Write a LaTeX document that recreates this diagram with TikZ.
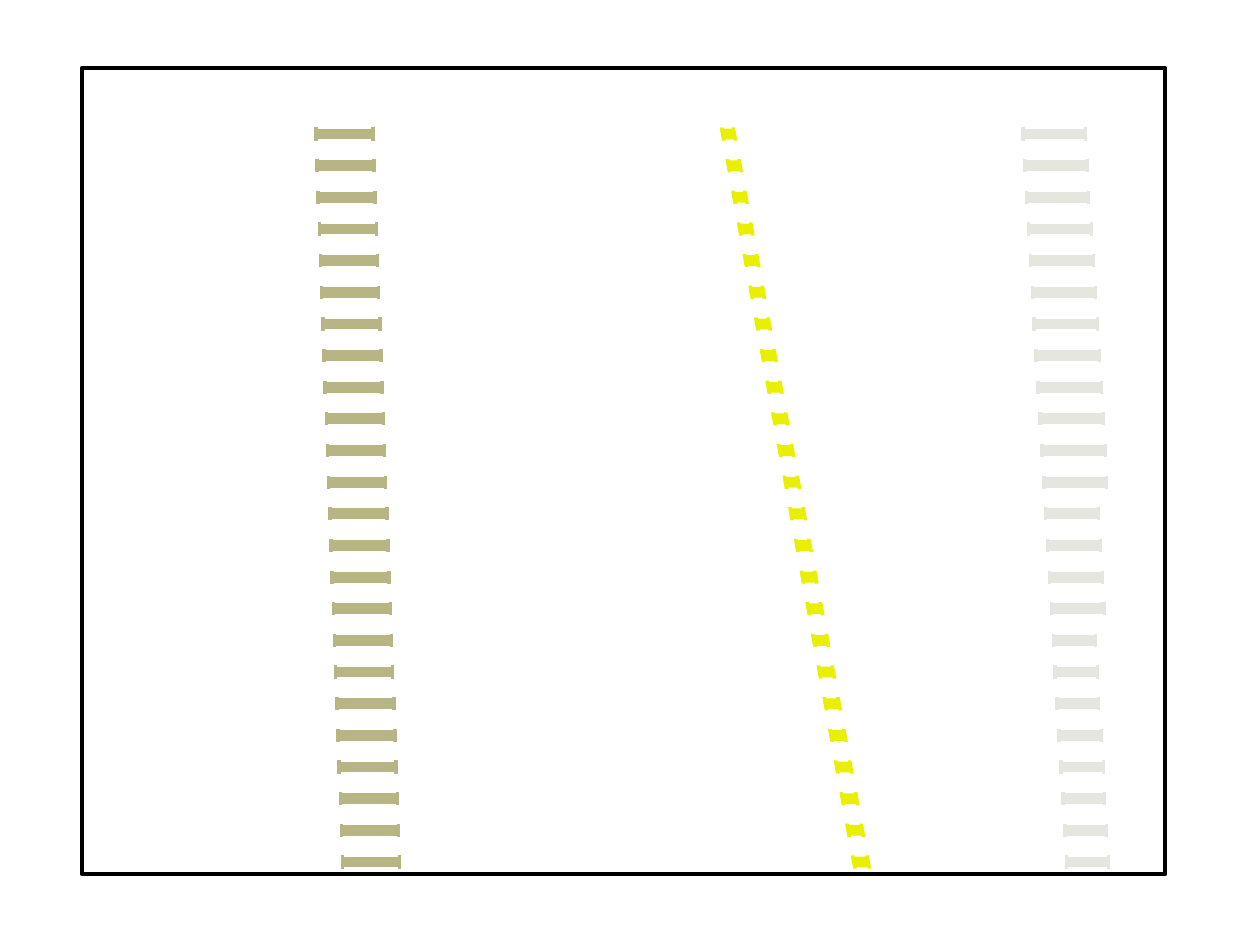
\documentclass[tikz,border=0pt]{standalone}
\usepackage{tikz}
\definecolor{olivetie}{RGB}{184,181,132}
\definecolor{yellowtie}{RGB}{232,240,0}
\definecolor{greytie}{RGB}{230,230,225}
\newcommand\railtie[4]{%
  \fill[#4] (#1,#3-5.4) rectangle (#2,#3+5.4);
  \fill[#4] (#1,#3-6.6) rectangle (#1+3.5,#3+6.6);
  \fill[#4] (#2-3.5,#3-6.6) rectangle (#2,#3+6.6);
}
\tikzset{frame/.style={draw=black,line width=4.8pt,line join=round}}
\begin{document}
\begin{tikzpicture}[x=1pt,y=-1pt]
\useasboundingbox (0,0) rectangle (1245,942);
\fill[white] (0,0) rectangle (1245,942);
% left column (olive)
\foreach \i in {0,...,23}{
  \pgfmathsetmacro\yy{134+31.65*\i}
  \pgfmathsetmacro\xa{314+1.17*\i}
  \pgfmathsetmacro\xb{\xa+60.5}
  \railtie{\xa}{\xb}{\yy}{olivetie}
}
% middle column (yellow)
\foreach \i in {0,...,23}{
  \pgfmathsetmacro\yy{134+31.65*\i}
  \pgfmathsetmacro\xc{728.5+5.76*\i}
  \pgfmathsetmacro\w{7.4+0.06*\i}
  \pgfmathsetmacro\xa{\xc-\w}
  \pgfmathsetmacro\xb{\xc+\w}
  \pgfmathsetmacro\sk{1.0}
  \fill[yellowtie] (\xa-\sk,\yy-5.4) -- (\xb-\sk,\yy-5.4) -- (\xb+\sk,\yy+5.4) -- (\xa+\sk,\yy+5.4) -- cycle;
  \fill[yellowtie] (\xa-\sk-0.3,\yy-6.6) -- (\xa-\sk+3.2,\yy-6.6) -- (\xa+\sk+3.5,\yy+6.6) -- (\xa+\sk,\yy+6.6) -- cycle;
  \fill[yellowtie] (\xb-\sk-3.5,\yy-6.6) -- (\xb-\sk,\yy-6.6) -- (\xb+\sk+0.3,\yy+6.6) -- (\xb+\sk-3.2,\yy+6.6) -- cycle;
}
% right column (light grey)
\foreach \i/\r in {0/1087,1/1089,2/1090,3/1093,4/1095,5/1097,6/1099,7/1101,8/1103,9/1105,10/1107,11/1108,12/1100,13/1102,14/1104,15/1106,16/1097,17/1099,18/1100,19/1103,20/1105,21/1106,22/1108,23/1110}{
  \pgfmathsetmacro\yy{134+31.65*\i}
  \pgfmathsetmacro\xa{1021+1.91*\i}
  \railtie{\xa}{\r}{\yy}{greytie}
}
% notch on tie at row 15
\fill[greytie] (1094,609-5.4) -- (1101,609-6.8) -- (1106,609-6.8) -- (1094,609+5.4) -- cycle;
% frame
\draw[frame] (82,68) rectangle (1165,874);
\end{tikzpicture}
\end{document}
